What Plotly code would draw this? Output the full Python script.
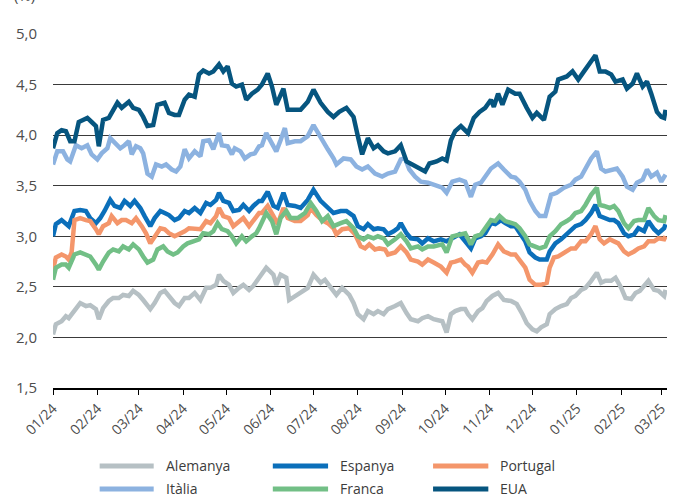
import pandas as pd
import plotly.graph_objects as go

START = pd.Timestamp("2024-01-01")

# Rendiments del deute a 10 anys (%), dies des de l'1/1/2024
alemanya_dies = [0, 2, 6, 9, 11, 15, 19, 23, 26, 30, 32, 35, 39, 42, 46, 49, 53, 56, 60, 63, 68, 71, 75, 78, 81, 85, 88, 92, 95, 99,
                 103, 107, 110, 114, 116, 119, 123, 126, 130, 133, 137, 140, 144,
                 149, 154, 156, 159, 163, 165, 169, 173, 178, 182, 187, 190, 194, 198, 202, 207, 210, 213, 217, 220, 224, 227, 231,
                 234, 239, 243, 247, 250, 255, 258, 262, 266, 272, 275, 278, 281, 285, 288,
                 290, 293, 297, 300, 303, 307, 311, 315, 320, 324, 328, 331, 335, 338, 341, 345, 347, 351, 355, 359, 362, 365, 369,
                 372, 376, 380, 383, 386, 390, 393, 397, 400, 404, 407, 410, 414, 416, 420, 423, 427, 428]
alemanya = [2.03, 2.13, 2.16, 2.21, 2.19, 2.26, 2.34, 2.31, 2.32, 2.28, 2.18, 2.29, 2.36, 2.39, 2.39, 2.42, 2.41, 2.46, 2.42, 2.37,
            2.28, 2.34, 2.44, 2.46, 2.41, 2.34, 2.31, 2.39, 2.39, 2.44,
            2.37, 2.49, 2.49, 2.52, 2.62, 2.56, 2.52, 2.44, 2.49, 2.52, 2.47, 2.51, 2.59,
            2.69, 2.62, 2.52, 2.62, 2.59, 2.37, 2.41, 2.44, 2.49, 2.62, 2.54, 2.57, 2.49, 2.42, 2.49, 2.42, 2.34, 2.23, 2.18,
            2.26, 2.23, 2.26, 2.23, 2.28, 2.31, 2.34, 2.24, 2.18, 2.16, 2.19, 2.21, 2.18, 2.16, 2.05, 2.23, 2.26, 2.28, 2.28,
            2.23, 2.18, 2.26, 2.29, 2.36, 2.41, 2.44, 2.37, 2.36, 2.33, 2.23, 2.14, 2.08, 2.06, 2.10, 2.13, 2.23, 2.28, 2.31,
            2.33, 2.39, 2.41, 2.47, 2.49, 2.56, 2.64, 2.54, 2.56, 2.56, 2.59, 2.49, 2.39, 2.38, 2.44, 2.46, 2.52, 2.56, 2.47,
            2.46, 2.41, 2.47]

espanya_dies = [0, 2, 6, 9, 11, 15, 19, 23, 26, 30, 33, 36, 40, 43, 47, 50, 54, 57, 61, 64, 68, 71, 75, 78, 81, 85, 88, 92, 95, 99,
                103, 107, 110, 114, 116, 119, 123, 126, 130, 133, 137, 140, 144,
                146, 150, 154, 157, 161, 164, 169, 173, 178, 182, 187, 192, 196, 201, 205, 210, 213, 217, 220, 224, 227, 231,
                234, 238, 241, 243, 247, 250, 255, 258, 262, 266, 271, 275, 279, 284, 288,
                292, 295, 299, 302, 306, 309, 313, 316, 320, 323, 326, 330, 333, 337, 340, 345, 347, 351, 355, 359, 362, 365,
                369, 372, 376, 379, 382, 385, 389, 392, 395, 399, 402, 406, 409, 413, 416, 420, 423, 427, 428]
espanya = [3.00, 3.12, 3.16, 3.13, 3.10, 3.25, 3.26, 3.25, 3.18, 3.13, 3.18, 3.25, 3.36, 3.30, 3.28, 3.35, 3.30, 3.35, 3.28, 3.20,
           3.10, 3.18, 3.25, 3.23, 3.21, 3.16, 3.18, 3.25, 3.23, 3.28,
           3.23, 3.33, 3.31, 3.36, 3.43, 3.35, 3.33, 3.25, 3.26, 3.31, 3.25, 3.30, 3.35,
           3.35, 3.44, 3.30, 3.28, 3.43, 3.31, 3.30, 3.28, 3.36, 3.46, 3.35, 3.28, 3.23, 3.25, 3.25, 3.20, 3.10, 3.07, 3.12,
           3.07, 3.08, 3.07, 3.02, 3.05, 3.08, 3.13, 3.03, 2.98, 2.97, 2.93, 2.98, 2.95, 2.97, 2.95, 2.98, 3.02, 2.95,
           2.88, 2.98, 3.00, 3.03, 3.13, 3.12, 3.16, 3.13, 3.10, 3.10, 3.03, 2.95, 2.84, 2.79, 2.77, 2.77, 2.85, 2.93, 2.97,
           3.02, 3.07, 3.10, 3.12, 3.16, 3.23, 3.31, 3.20, 3.18, 3.16, 3.16, 3.13, 3.03, 3.00, 3.02, 3.08, 3.05, 3.15, 3.07,
           3.03, 3.08, 3.12]

portugal_dies = [0, 2, 6, 9, 11, 13, 15, 19, 23, 26, 30, 32, 35, 39, 41, 45, 48, 51, 55, 58, 62, 65, 68, 71, 75, 78, 81, 85, 88,
                 92, 95, 99, 103, 107, 110, 114, 116, 119, 123, 126, 130, 133, 137, 140, 144,
                 146, 150, 154, 157, 161, 164, 169, 173, 178, 180, 184, 188, 192, 196, 198, 202, 207, 211, 215, 218, 221, 225,
                 228, 232, 234, 239, 243, 247, 250, 255, 258, 262, 266, 271, 275, 278, 281, 285, 288,
                 290, 293, 297, 300, 303, 307, 311, 315, 320, 323, 326, 330, 333, 337, 341, 345, 347, 350, 353, 357, 362, 365,
                 369, 372, 376, 379, 382, 385, 389, 392, 395, 399, 402, 406, 409, 413, 416, 420, 423, 427, 428]
portugal = [2.67, 2.79, 2.82, 2.80, 2.77, 2.84, 3.16, 3.18, 3.16, 3.15, 3.07, 3.02, 3.10, 3.13, 3.20, 3.13, 3.16, 3.16, 3.13, 3.18,
            3.10, 3.03, 2.93, 3.00, 3.08, 3.07, 3.03, 3.00, 3.02, 3.05, 3.08, 3.08,
            3.07, 3.15, 3.13, 3.20, 3.28, 3.20, 3.18, 3.10, 3.15, 3.18, 3.10, 3.16, 3.23,
            3.23, 3.30, 3.20, 3.12, 3.28, 3.18, 3.15, 3.15, 3.21, 3.28, 3.21, 3.16, 3.13, 3.08, 3.02, 3.07, 3.08, 3.02, 2.90,
            2.88, 2.92, 2.87, 2.88, 2.87, 2.82, 2.84, 2.90, 2.84, 2.77, 2.75, 2.72, 2.77, 2.74, 2.70, 2.64, 2.74, 2.75, 2.77,
            2.72,
            2.70, 2.64, 2.74, 2.75, 2.74, 2.82, 2.92, 2.85, 2.82, 2.82, 2.77, 2.69, 2.57, 2.52, 2.52, 2.54, 2.69, 2.79, 2.80,
            2.84, 2.88, 2.88, 2.95, 2.95, 3.02, 3.10, 2.97, 2.93, 2.97, 2.95, 2.93, 2.85, 2.82, 2.85, 2.88, 2.90, 2.95, 2.95,
            2.98, 2.97, 3.00]

italia_dies = [0, 3, 7, 10, 12, 16, 20, 24, 27, 31, 34, 38, 40, 43, 47, 50, 53, 55, 58, 61, 63, 66, 69, 72, 76, 79, 83, 86, 89,
               92, 95, 99, 103, 105, 109, 112, 116, 118, 122, 125, 127, 131, 134, 138, 141, 144,
               146, 149, 153, 156, 159, 162, 164, 169, 173, 178, 182, 187, 192, 196, 198, 203, 208, 212, 216, 220, 225, 230,
               234, 239, 243, 246, 249, 253, 257, 262, 266, 272, 275, 279, 284, 288,
               292, 295, 299, 302, 306, 308, 311, 315, 320, 323, 326, 330, 333, 337, 340, 344, 346, 348, 352, 357, 362, 365,
               369, 372, 376, 380, 383, 386, 390, 394, 398, 401, 405, 408, 412, 415, 418, 422, 425, 428]
italia = [3.71, 3.84, 3.84, 3.76, 3.74, 3.90, 3.87, 3.90, 3.81, 3.76, 3.82, 3.87, 3.97, 3.92, 3.87, 3.90, 3.94, 3.81, 3.89, 3.87,
          3.82, 3.62, 3.59, 3.71, 3.69, 3.71, 3.66, 3.64, 3.69, 3.86, 3.77, 3.84,
          3.79, 3.94, 3.95, 3.86, 4.02, 3.90, 3.89, 3.81, 3.87, 3.84, 3.77, 3.81, 3.82, 3.89,
          3.90, 4.02, 3.92, 3.84, 3.95, 4.07, 3.92, 3.94, 3.94, 3.99, 4.10, 3.97, 3.86, 3.77, 3.71, 3.77, 3.76, 3.69, 3.66,
          3.69, 3.62, 3.59, 3.62, 3.64, 3.76, 3.77, 3.66, 3.59, 3.54, 3.53, 3.51, 3.48, 3.43, 3.54, 3.56, 3.54,
          3.39, 3.51, 3.53, 3.59, 3.67, 3.69, 3.72, 3.66, 3.59, 3.58, 3.54, 3.46, 3.35, 3.25, 3.20, 3.20, 3.31, 3.41, 3.43,
          3.48, 3.51, 3.56, 3.59, 3.66, 3.77, 3.84, 3.67, 3.64, 3.66, 3.67, 3.59, 3.49, 3.46, 3.53, 3.56, 3.66, 3.59, 3.63,
          3.54, 3.61]

franca_dies = [0, 2, 6, 9, 11, 15, 19, 23, 26, 30, 32, 35, 39, 42, 46, 49, 53, 56, 60, 63, 66, 70, 73, 77, 80, 84, 87, 91, 94, 98,
               102, 105, 109, 112, 115, 118, 122, 125, 128, 132, 135, 139, 142, 144,
               149, 153, 156, 159, 163, 166, 171, 176, 180, 184, 188, 192, 196, 201, 205, 210, 213, 217, 220, 224, 227, 231,
               234, 239, 243, 247, 250, 255, 258, 262, 266, 272, 275, 279, 284, 288,
               292, 295, 299, 302, 306, 309, 312, 316, 320, 323, 326, 330, 333, 337, 340, 344, 347, 351, 355, 359, 362, 365,
               369, 372, 376, 380, 382, 385, 389, 392, 395, 399, 402, 406, 409, 413, 416, 420, 423, 427, 428]
franca = [2.57, 2.69, 2.72, 2.72, 2.69, 2.82, 2.84, 2.82, 2.80, 2.72, 2.67, 2.75, 2.84, 2.87, 2.85, 2.90, 2.87, 2.92, 2.87, 2.80,
          2.74, 2.77, 2.87, 2.90, 2.85, 2.82, 2.84, 2.90, 2.93, 2.95,
          2.97, 3.03, 3.02, 3.05, 3.13, 3.07, 3.05, 3.00, 2.93, 3.00, 2.95, 3.00, 3.03, 3.08,
          3.23, 3.15, 3.02, 3.18, 3.25, 3.18, 3.18, 3.23, 3.33, 3.25, 3.15, 3.20, 3.10, 3.13, 3.15, 3.08, 3.00, 2.97, 3.00,
          2.98, 3.00, 2.98, 2.92, 2.97, 3.02, 2.95, 2.88, 2.90, 2.87, 2.90, 2.90, 2.92, 2.84, 3.00, 3.02, 3.03,
          2.92, 3.00, 3.02, 3.08, 3.16, 3.15, 3.20, 3.15, 3.13, 3.12, 3.08, 3.00, 2.92, 2.90, 2.88, 2.90, 3.00, 3.05, 3.12,
          3.15, 3.18, 3.23, 3.25, 3.31, 3.41, 3.48, 3.31, 3.30, 3.28, 3.30, 3.25, 3.13, 3.08, 3.15, 3.16, 3.16, 3.28, 3.20,
          3.16, 3.15, 3.21]

eua_dies = [0, 3, 6, 9, 12, 15, 18, 22, 24, 27, 30, 32, 35, 39, 42, 45, 48, 53, 56, 60, 63, 66, 70, 73, 78, 81, 85, 88, 92, 95, 99,
            102, 105, 109, 112, 116, 119, 122, 125, 128, 132, 135, 139, 143,
            146, 150, 153, 156, 161, 164, 169, 173, 178, 182, 187, 192, 196, 200, 205, 210, 213, 216, 220, 224, 227, 231,
            234, 239, 243, 247, 251, 256, 260, 263, 268, 272, 275, 278, 281, 285, 288,
            290, 294, 298, 302, 306, 308, 311, 314, 318, 323, 326, 331, 335, 338, 343, 347, 351, 353, 359, 363, 367, 371,
            375, 379, 382, 386, 390, 393, 398, 401, 405, 408, 412, 415, 418, 422, 425, 427, 428]
eua = [3.87, 4.02, 4.05, 4.04, 3.94, 3.94, 4.13, 4.15, 4.17, 4.13, 4.09, 3.89, 4.15, 4.17, 4.25, 4.32, 4.27, 4.33, 4.27, 4.25, 4.18,
       4.09, 4.10, 4.30, 4.32, 4.22, 4.20, 4.20, 4.35, 4.40, 4.38,
       4.60, 4.64, 4.61, 4.63, 4.70, 4.63, 4.68, 4.51, 4.48, 4.50, 4.35, 4.41, 4.45,
       4.50, 4.61, 4.48, 4.30, 4.46, 4.25, 4.25, 4.25, 4.33, 4.45, 4.32, 4.23, 4.18, 4.23, 4.27, 4.18, 3.99, 3.81, 3.97,
       3.87, 3.90, 3.84, 3.82, 3.84, 3.90, 3.74, 3.71, 3.67, 3.64, 3.72, 3.74, 3.77, 3.75, 3.95, 4.04, 4.09, 4.05,
       4.02, 4.17, 4.23, 4.27, 4.35, 4.28, 4.41, 4.30, 4.45, 4.41, 4.41, 4.27, 4.17, 4.22, 4.15, 4.38, 4.43, 4.55, 4.58,
       4.63, 4.55, 4.63, 4.71, 4.79, 4.63, 4.63, 4.60, 4.53, 4.55, 4.46, 4.51, 4.61, 4.48, 4.53, 4.41, 4.23, 4.18, 4.17,
       4.25]

series = [
    ("Alemanya", alemanya_dies, alemanya, "#b6c0c4"),
    ("Espanya", espanya_dies, espanya, "#0b6fba"),
    ("Portugal", portugal_dies, portugal, "#f4966b"),
    ("Itàlia", italia_dies, italia, "#8cb2e0"),
    ("França", franca_dies, franca, "#72bf86"),
    ("EUA", eua_dies, eua, "#06557f"),
]

FONT = "Open Sans, Noto Sans, sans-serif"
fig = go.Figure()
for name, dies, vals, color in series:
    fig.add_trace(go.Scatter(
        x=START + pd.to_timedelta(dies, unit="D"), y=vals, mode="lines", name=name,
        line={"color": color, "width": 4.5}, showlegend=False,
    ))

# llegenda feta a mà: línies de 55 px com a l'original
legend_cols = [(0.076, 0.164), (0.358, 0.448), (0.619, 0.709)]
legend_rows = [-0.220, -0.285]
for i, (name, _, _, color) in enumerate(series):
    x0, x1 = legend_cols[i % 3]
    y = legend_rows[i // 3]
    fig.add_shape(type="line", xref="paper", yref="paper", x0=x0, x1=x1, y0=y, y1=y,
                  line={"color": color, "width": 5})
    fig.add_annotation(text=name, xref="paper", yref="paper", x=x1 + 0.016, y=y,
                       xanchor="left", yanchor="middle", showarrow=False,
                       font={"family": FONT, "size": 14, "color": "#3c3c3c"})

fig.add_annotation(text="(%)", xref="paper", yref="paper", x=-0.047, y=1.110,
                   xanchor="center", yanchor="middle", showarrow=False,
                   font={"family": FONT, "size": 15, "color": "#4d4d4d"})

fig.update_layout(
    width=678, height=494,
    margin={"l": 53, "r": 11, "t": 34, "b": 106, "autoexpand": False},
    paper_bgcolor="white", plot_bgcolor="white",
    separators=", ",
    font={"family": FONT, "size": 14, "color": "#4d4d4d"},
)
fig.update_xaxes(
    range=["2024-01-01", "2025-03-05"], automargin=False,
    tick0="2024-01-01", dtick="M1", tickformat="%m/%y", tickangle=-45,
    ticks="outside", ticklen=5, tickcolor="#000", tickwidth=1,
    showline=True, linecolor="#000", linewidth=1.5, showgrid=False, zeroline=False,
    tickfont={"size": 14, "color": "#4d4d4d"},
)
fig.update_yaxes(
    range=[1.5, 5.0], dtick=0.5, tick0=1.5, tickformat=".1f", automargin=False,
    showgrid=True, gridcolor="#3a3a3a", gridwidth=1, zeroline=False, showline=False,
    ticks="", ticklabelstandoff=15,
    tickfont={"size": 15, "color": "#4d4d4d"},
)

# la pàgina per defecte té 8 px de marge al body: el traiem
fig.write_html(
    "out.html",
    config={"displayModeBar": False},
    post_script="document.body.style.margin='0';document.body.style.overflow='hidden';",
)
